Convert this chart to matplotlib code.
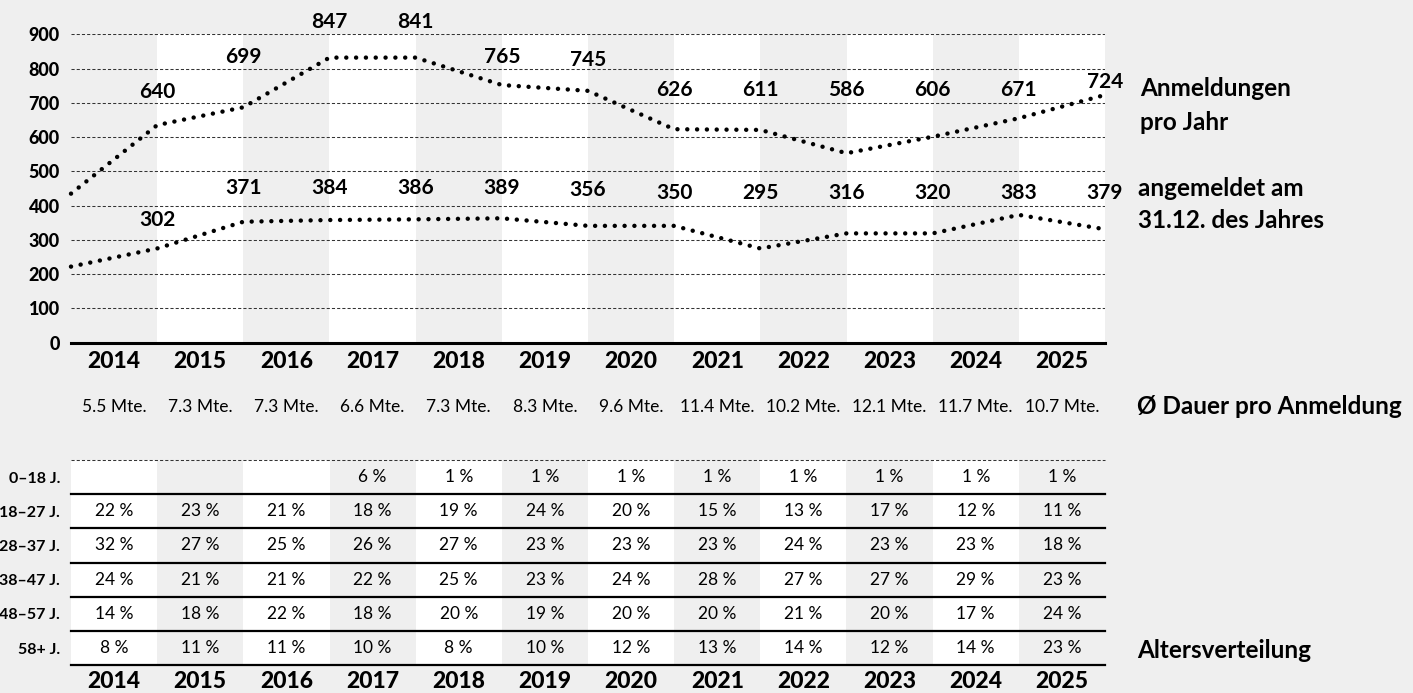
import numpy as np
import matplotlib
matplotlib.use("Agg")
import matplotlib.pyplot as plt
from matplotlib.transforms import blended_transform_factory

plt.rcParams['font.family'] = ['Lato', 'DejaVu Sans']

# ---- data ----
years = [2014, 2015, 2016, 2017, 2018, 2019, 2020, 2021, 2022, 2023, 2024, 2025]

# numbers printed above the lines (one per year)
anmeldungen_labels = [640, 699, 847, 841, 765, 745, 626, 611, 586, 606, 671, 724]
angemeldet_labels = [302, 371, 384, 386, 389, 356, 350, 295, 316, 320, 383, 379]

# the dotted lines as drawn, read at the band edges (13 edges for 12 years)
anmeldungen_line = [435, 635, 687, 832, 832, 752, 735, 623, 621, 553, 601, 655, 723]
angemeldet_line = [222, 275, 353, 358, 360, 363, 341, 341, 275, 319, 319, 373, 331]

dauer = [5.5, 7.3, 7.3, 6.6, 7.3, 8.3, 9.6, 11.4, 10.2, 12.1, 11.7, 10.7]

age_groups = ["0–18 J.", "18–27 J.", "28–37 J.", "38–47 J.", "48–57 J.", "58+ J."]
age_0_18 = [None, None, None, 6, 1, 1, 1, 1, 1, 1, 1, 1]
age_18_27 = [22, 23, 21, 18, 19, 24, 20, 15, 13, 17, 12, 11]
age_28_37 = [32, 27, 25, 26, 27, 23, 23, 23, 24, 23, 23, 18]
age_38_47 = [24, 21, 21, 22, 25, 23, 24, 28, 27, 27, 29, 23]
age_48_57 = [14, 18, 22, 18, 20, 19, 20, 20, 21, 20, 17, 24]
age_58 = [8, 11, 11, 10, 8, 10, 12, 13, 14, 12, 14, 23]
age_rows = [age_0_18, age_18_27, age_28_37, age_38_47, age_48_57, age_58]

# ---- layout ----
BG = '#efefef'
W, H = 1413, 693
top_label_y = [732, 835, 937, 937, 835, 825, 737, 737, 737, 737, 737, 762]
low_label_y = [358, 451, 452, 452, 452, 446, 436, 436, 438, 438, 438, 438]

fig = plt.figure(figsize=(W / 100, H / 100), dpi=100, facecolor=BG)

def fx(px):
    return px / W

def fy(py):
    return 1 - py / H

n = len(years)
x = np.arange(n)
edges = np.arange(n + 1) - 0.5

# main chart
ax = fig.add_axes([fx(71), fy(342.7), fx(1105 - 71), (342.7 - 34.3) / H])
ax.set_facecolor(BG)
ax.set_xlim(-0.5, n - 0.5)
ax.set_ylim(0, 900)
for i in range(n):
    if i % 2 == 1:
        ax.axvspan(i - 0.5, i + 0.5, color='white', lw=0, zorder=0)
for v in range(100, 1000, 100):
    ax.axhline(v, color='#333333', lw=0.75, ls=(0, (3, 2)), zorder=1)
ax.axhline(0, color='black', lw=2.2, zorder=3, clip_on=False)

dot = dict(color='black', lw=3.2, ls=(0, (0.01, 2.2)), dash_capstyle='round',
           solid_capstyle='round', zorder=4, clip_on=False)
ax.plot(edges, anmeldungen_line, **dot)
ax.plot(edges, angemeldet_line, **dot)

for i in range(n):
    ax.text(i + 0.5, top_label_y[i], str(anmeldungen_labels[i]), ha='center',
            va='center', fontsize=15, fontweight='bold', clip_on=False)
    ax.text(i + 0.5, low_label_y[i], str(angemeldet_labels[i]), ha='center',
            va='center', fontsize=15, fontweight='bold', clip_on=False)

ax.set_yticks(range(0, 1000, 100))
ax.set_xticks(x)
ax.set_xticklabels([str(y) for y in years], fontsize=16.5, fontweight='black')
for lbl in ax.get_yticklabels():
    lbl.set_fontweight('black')
    lbl.set_fontsize(13)
ax.tick_params(axis='x', length=0, pad=6)
ax.tick_params(axis='y', length=0, pad=8)
for s in ax.spines.values():
    s.set_visible(False)

# average duration row
tr = blended_transform_factory(ax.transData, fig.transFigure)
for i in range(n):
    ax.text(i, fy(407), f"{dauer[i]} Mte.", transform=tr, ha='center', va='center',
            fontsize=12.5)

# age table
tab = fig.add_axes([fx(71), fy(665.2), fx(1105 - 71), (665.2 - 460) / H])
tab.set_facecolor(BG)
tab.set_xlim(-0.5, n - 0.5)
tab.set_ylim(len(age_groups), 0)
for i in range(n):
    if i % 2 == 0:
        tab.axvspan(i - 0.5, i + 0.5, color='white', lw=0, zorder=0)
tab.axhline(0, color='#333333', lw=0.75, ls=(0, (3, 2)), zorder=2, clip_on=False)
for r in range(1, len(age_groups) + 1):
    tab.axhline(r, color='black', lw=1.6, zorder=2, clip_on=False)
for r, row in enumerate(age_rows):
    for i, v in enumerate(row):
        if v is not None:
            tab.text(i, r + 0.5, f"{v} %", ha='center', va='center', fontsize=12.5)
tab.set_yticks(np.arange(len(age_groups)) + 0.5)
tab.set_yticklabels(age_groups, fontsize=11.5, fontweight='bold')
tab.set_xticks(x)
tab.set_xticklabels([str(y) for y in years], fontsize=16.5, fontweight='black')
tab.tick_params(axis='x', length=0, pad=4)
tab.tick_params(axis='y', length=0, pad=8)
for s in tab.spines.values():
    s.set_visible(False)

# side labels
side = dict(fontsize=17.5, fontweight='bold', ha='left', va='center')
fig.text(fx(1140), fy(88), "Anmeldungen", **side)
fig.text(fx(1140), fy(122), "pro Jahr", **side)
fig.text(fx(1138), fy(188), "angemeldet am", **side)
fig.text(fx(1138), fy(220), "31.12. des Jahres", **side)
fig.text(fx(1137), fy(407), "Ø Dauer pro Anmeldung", **side)
fig.text(fx(1137), fy(650), "Altersverteilung", **side)

fig.savefig('out.png', dpi=100, facecolor=BG)
